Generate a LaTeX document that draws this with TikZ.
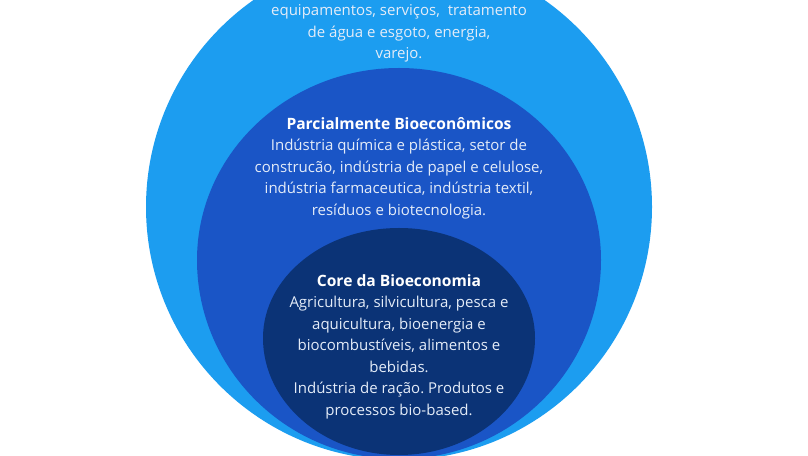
\documentclass[tikz,border=0pt]{standalone}
\usepackage{fontspec}
\setmainfont{Open Sans}
\frenchspacing
\definecolor{outerblue}{HTML}{1C9DF0}
\definecolor{midblue}{HTML}{1A55C6}
\definecolor{coreblue}{HTML}{0B3376}
\definecolor{bodytext}{HTML}{E4ECF8}
\newcommand{\ringhead}[1]{{\color{white}\fontsize{15.6}{21.5}\selectfont\bfseries #1}}
\begin{document}
\begin{tikzpicture}[x=1pt,y=1pt,
  ringtext/.style={align=center,text=bodytext,font=\fontsize{15}{21.5}\selectfont,inner sep=0pt}]
\useasboundingbox (0,0) rectangle (808,455);
\clip (0,0) rectangle (808,455);
% outer ring
\fill[outerblue] (399,248) circle[radius=253];
% middle ring
\fill[midblue] (197,195) arc[start angle=180,end angle=0,x radius=202,y radius=192]
  arc[start angle=0,end angle=-180,x radius=202,y radius=199] -- cycle;
% core
\fill[coreblue] (263,117) arc[start angle=180,end angle=0,x radius=136,y radius=110]
  arc[start angle=0,end angle=-180,x radius=136,y radius=117] -- cycle;
\node[ringtext] (outertext) at (399,421.5) {equipamentos, serviços,\ \ tratamento\\de água e esgoto, energia,\\varejo.};
\node[ringtext] (midtext) at (399,287) {\ringhead{Parcialmente Bioeconômicos}\\Indústria química e plástica, setor de\\construcão, indústria de papel e celulose,\\indústria farmaceutica, indústria textil,\\resíduos e biotecnologia.};
\node[ringtext] (coretext) at (399,108.5) {\ringhead{Core da Bioeconomia}\\Agricultura, silvicultura, pesca e\\aquicultura, bioenergia e\\biocombustíveis, alimentos e\\bebidas.\\Indústria de ração. Produtos e\\processos bio-based.};
\end{tikzpicture}
\end{document}
